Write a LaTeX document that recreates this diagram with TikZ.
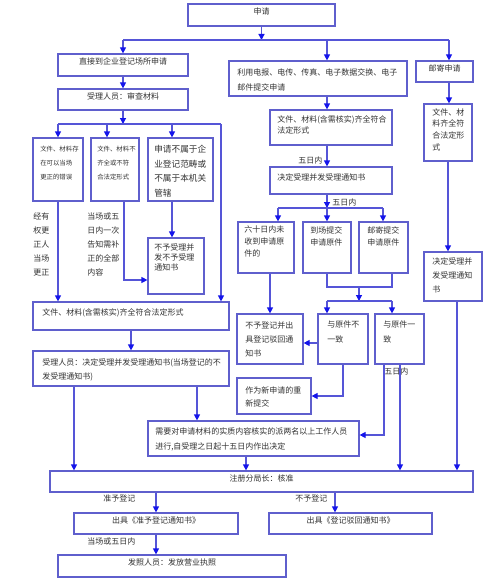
\documentclass[tikz,border=0pt]{standalone}
\usepackage{fontspec}
\newfontfamily\cjk{Noto Sans CJK SC}
\usetikzlibrary{arrows.meta,fit,calc}
\definecolor{boxc}{RGB}{95,95,205}
\definecolor{linec}{RGB}{85,85,215}
\definecolor{tipc}{RGB}{20,20,235}
\definecolor{textc}{RGB}{50,50,50}
\tikzset{
 box/.style={draw=boxc, line width=0.9pt, inner sep=0pt, font=\cjk\fontsize{6}{9}\selectfont, text=textc},
 txt/.style={inner sep=0pt, align=left, anchor=north west, text=textc, font=\cjk\fontsize{6}{#1}\selectfont},
 txt/.default=10.9,
 ln/.style={draw=linec, line width=0.9pt},
 arr/.style={ln, -{Triangle[length=4.5pt,width=4.5pt,color=tipc]}},
}
\newcommand\bx[6]{\node[box, fit={(#2,#3) (#4,#5)}] (#1) {#6};}
\begin{document}
\begin{tikzpicture}[x=0.75pt,y=-0.75pt]
\fill[white] (0,0) rectangle (498,585);
\useasboundingbox (0,0) rectangle (498,585);
% boxes
\bx{sq}{188}{4}{335}{26}{申请}
\bx{zj}{58}{54}{188}{76}{直接到企业登记场所申请}
\bx{sl}{58}{89}{188}{110}{受理人员：审查材料}
\bx{b1}{33}{138}{83}{201}{}
\bx{b2}{91}{138}{139}{201}{}
\bx{b3}{148}{138}{213}{201}{}
\bx{bu}{148}{238}{204}{294}{}
\bx{wl}{33}{302}{229}{330}{}
\bx{sl2}{33}{351}{229}{386}{}
\bx{xy}{148}{421}{359}{456}{}
\bx{zc}{50}{471}{473}{492}{注册分局长：核准}
\bx{zy}{74}{513}{238}{534}{出具《准予登记通知书》}
\bx{bh}{269}{513}{432}{534}{出具《登记驳回通知书》}
\bx{fz}{58}{555}{286}{577}{发照人员：发放营业执照}
\bx{dx}{229}{61}{407}{96}{}
\bx{mw}{270}{110}{392}{145}{}
\bx{md}{270}{167}{392}{194}{}
\bx{yj}{416}{61}{473}{82}{邮寄申请}
\bx{rw}{424}{104}{472}{161}{}
\bx{rd}{424}{252}{482}{301}{}
\bx{l1}{238}{222}{294}{273}{}
\bx{l2}{303}{222}{351}{273}{}
\bx{l3}{359}{222}{408}{273}{}
\bx{nb}{237}{314}{303}{364}{}
\bx{n1}{318}{314}{368}{364}{}
\bx{yz}{375}{314}{424}{364}{}
\bx{zx}{237}{378}{311}{414}{}
% box texts
\node[txt, font=\cjk\fontsize{4.8}{10.5}\selectfont] (b1t) at (40,146) {文件、材料存\\在可以当场\\更正的错误};
\node[txt, font=\cjk\fontsize{4.8}{10.5}\selectfont] (b2t) at (97,146) {文件、材料不\\齐全或不符\\合法定形式};
\node[txt, font=\cjk\fontsize{6.5}{10.9}\selectfont] (b3t) at (154,145) {申请不属于企\\业登记范畴或\\不属于本机关\\管辖};
\node[txt=7.6] (but) at (154,243) {不予受理并\\发不予受理\\通知书};
\node[txt] (wlt) at (42,308) {文件、材料(含需核实)齐全符合法定形式};
\node[txt=10.5] (sl2t) at (42,358) {受理人员：决定受理并发受理通知书(当场登记的不\\发受理通知书)};
\node[txt=11.25] (xyt) at (155,427) {需要对申请材料的实质内容核实的派两名以上工作人员\\进行,自受理之日起十五日内作出决定};
\node[txt=11.25] (dxt) at (237,68) {利用电报、电传、传真、电子数据交换、电子\\邮件提交申请};
\node[txt=8.4] (mwt) at (277,115) {文件、材料(含需核实)齐全符合\\法定形式};
\node[txt] (mdt) at (277,173) {决定受理并发受理通知书};
\node[txt=8.8] (rwt) at (432,108) {文件、材\\料齐全符\\合法定形\\式};
\node[txt=10.5] (rdt) at (432,257) {决定受理并\\发受理通知\\书};
\node[txt=9] (l1t) at (244,226) {六十日内未\\收到申请原\\件的};
\node[txt=9.5] (l2t) at (310,226) {到场提交\\申请原件};
\node[txt=9.5] (l3t) at (367,226) {邮寄提交\\申请原件};
\node[txt=10.5] (nbt) at (245,321) {不予登记并出\\具登记驳回通\\知书};
\node[txt=11] (n1t) at (327,321) {与原件不\\一致};
\node[txt=11] (yzt) at (383,321) {与原件一\\致};
\node[txt=9.75] (zxt) at (245,386) {作为新申请的重\\新提交};
% free labels
\node[txt=10.5] (lab1) at (33,213) {经有\\权更\\正人\\当场\\更正};
\node[txt=10.5] (lab2) at (87,213) {当场或五\\日内一次\\告知需补\\正的全部\\内容};
\node[txt] (lab3) at (298,157) {五日内};
\node[txt] (lab4) at (332,199) {五日内};
\node[txt] (lab5) at (384,368) {五日内};
\node[txt] (lab6) at (103,495) {准予登记};
\node[txt] (lab7) at (295,495) {不予登记};
\node[txt] (lab8) at (87,538) {当场或五日内};
% coordinates
\coordinate (j1) at (262,40);
\coordinate (j2) at (123,124);
\coordinate (j3) at (327,208);
\coordinate (j4) at (359,301);
\coordinate (j5) at (359,287);
\coordinate (cM) at (327,0);
\coordinate (cR) at (449,0);
\coordinate (x2) at (107,0);
\coordinate (x3) at (172,0);
\coordinate (x4) at (221,0);
\coordinate (x5) at (124,0);
\coordinate (x6) at (74,0);
\coordinate (x7) at (197,0);
\coordinate (x8) at (246,0);
\coordinate (x9) at (384,0);
\coordinate (x10) at (400,0);
\coordinate (x11) at (448,0);
\coordinate (x12) at (457,0);
\coordinate (x13) at (278,0);
\coordinate (x14) at (383,0);
\coordinate (x15) at (392,0);
\coordinate (x16) at (270,0);
\coordinate (x17) at (156,0);
\coordinate (x18) at (335,0);
\coordinate (k2) at (124,280);
\coordinate (k3) at (384,435);
\coordinate (k4) at (318,343);
% connectors top
\draw[arr] (sq.south) -- (sq.south |- j1);
\draw[ln] (zj.north |- j1) -- (cR |- j1);
\draw[arr] (zj.north |- j1) -- (zj.north);
\draw[arr] (cM |- j1) -- (cM |- dx.north);
\draw[arr] (cR |- j1) -- (cR |- yj.north);
% left column
\draw[arr] (zj.south) -- (sl.north);
\draw[arr] (sl.south) -- (j2);
\draw[ln] (b1.north |- j2) -- (x4 |- j2);
\draw[arr] (b1.north |- j2) -- (b1.north);
\draw[arr] (x2 |- j2) -- (x2 |- b2.north);
\draw[arr] (x3 |- j2) -- (x3 |- b3.north);
\draw[arr] (x4 |- j2) -- (x4 |- wl.north);
\draw[arr] (b1.south) -- (b1.south |- wl.north);
\draw[arr] (x5 |- b2.south) -- (k2) -- (k2 -| bu.west);
\draw[arr] (x3 |- b3.south) -- (x3 |- bu.north);
\draw[arr] (wl.south) -- (wl.south |- sl2.north);
\draw[arr] (x6 |- sl2.south) -- (x6 |- zc.north);
\draw[arr] (x7 |- sl2.south) -- (x7 |- xy.north);
\draw[arr] (x8 |- xy.south) -- (x8 |- zc.north);
% middle column
\draw[arr] (cM |- dx.south) -- (cM |- mw.north);
\draw[arr] (cM |- mw.south) -- (cM |- md.north);
\draw[arr] (cM |- md.south) -- (j3);
\draw[ln] (x13 |- j3) -- (x14 |- j3);
\draw[arr] (x13 |- j3) -- (x13 |- l1.north);
\draw[arr] (j3) -- (cM |- l2.north);
\draw[arr] (x14 |- j3) -- (x14 |- l3.north);
\draw[ln] (cM |- l2.south) -- (cM |- j5) -- (x15 |- j5) -- (x15 |- l3.south);
\draw[arr] (j5) -- (j4);
\draw[ln] (cM |- j4) -- (x15 |- j4);
\draw[arr] (cM |- j4) -- (cM |- n1.north);
\draw[arr] (x15 |- j4) -- (x15 |- yz.north);
\draw[arr] (x16 |- l1.south) -- (x16 |- nb.north);
\draw[arr] (n1.west |- k4) -- (nb.east |- k4);
\draw[arr] (n1.south) |- (zx.east);
\draw[arr] (x9 |- yz.south) -- (k3) -- (k3 -| xy.east);
\draw[arr] (x10 |- yz.south) -- (x10 |- zc.north);
% right column
\draw[arr] (cR |- yj.south) -- (cR |- rw.north);
\draw[arr] (x11 |- rw.south) -- (x11 |- rd.north);
\draw[arr] (x12 |- rd.south) -- (x12 |- zc.north);
% bottom
\draw[arr] (x17 |- zc.south) -- (x17 |- zy.north);
\draw[arr] (x18 |- zc.south) -- (x18 |- bh.north);
\draw[arr] (zy.south) -- (zy.south |- fz.north);
\end{tikzpicture}
\end{document}
